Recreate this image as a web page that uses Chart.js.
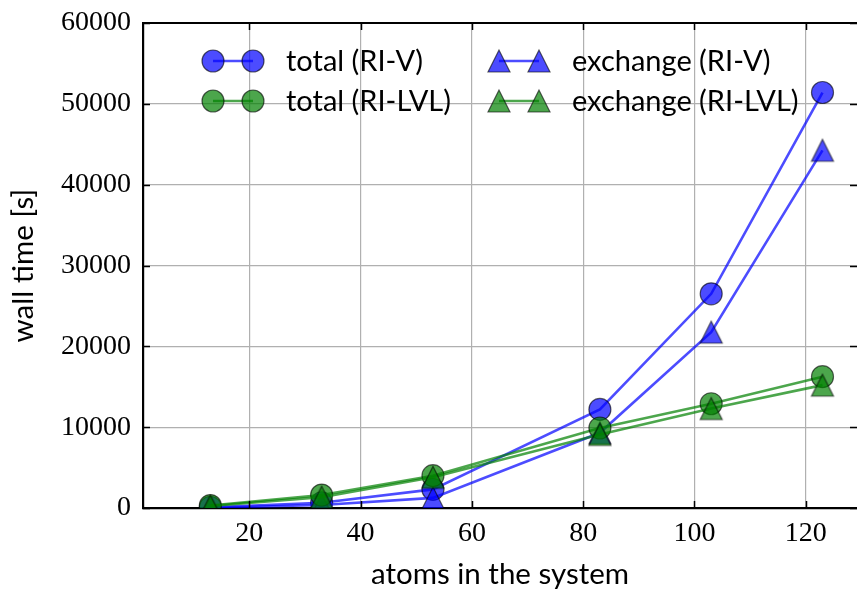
<!DOCTYPE html>
<html>
<head>
<meta charset="utf-8">
<script src="https://cdn.jsdelivr.net/npm/chart.js@4.4.1/dist/chart.umd.min.js"></script>
<style>
  html, body { margin: 0; padding: 0; background: #fff; }
  #wrap { width: 857px; height: 590px; }
</style>
</head>
<body>
<div id="wrap"><canvas id="myChart" width="857" height="590"></canvas></div>
<script>
// timings (seconds) vs. number of atoms
const atoms = [13, 33, 53, 83, 103, 123];
const totalRIV = [80, 650, 2300, 12200, 26500, 51400];
const totalRILVL = [300, 1600, 4000, 9900, 12900, 16250];
const exchangeRIV = [30, 370, 1250, 9300, 21750, 44250];
const exchangeRILVL = [250, 1350, 3800, 9100, 12300, 15200];
const xTicks = [20, 40, 60, 80, 100, 120];
const yTicks = [0, 10000, 20000, 30000, 40000, 50000, 60000];

const BLUE = 'rgba(0,0,255,0.7)';
const GREEN = 'rgba(0,128,0,0.7)';
const EDGE = 'rgba(0,0,0,0.6)';
const SERIF = "'Liberation Serif', serif";
const SANS = "Lato, 'Open Sans', sans-serif";

// matplotlib-like '^' marker, centred on its bounding box
function triangleMarker(fill) {
    const s = 26, h = 11, c = s / 2;
    const cv = document.createElement('canvas');
    cv.width = s; cv.height = s;
    const g = cv.getContext('2d');
    g.beginPath();
    g.moveTo(c, c - h);
    g.lineTo(c - h, c + h);
    g.lineTo(c + h, c + h);
    g.closePath();
    g.fillStyle = fill;
    g.fill();
    g.lineWidth = 1.2;
    g.strokeStyle = EDGE;
    g.stroke();
    return cv;
}

function series(label, values, color, marker, order) {
    return {
        label: label,
        data: atoms.map((a, i) => ({ x: a, y: values[i] })),
        borderColor: color,
        borderWidth: 2.6,
        backgroundColor: color,
        pointStyle: marker === 'circle' ? 'circle' : triangleMarker(color),
        pointRadius: 11,
        pointBackgroundColor: color,
        pointBorderColor: EDGE,
        pointBorderWidth: 1.2,
        tension: 0,
        clip: 0,
        order: order
    };
}

// legend drawn inside the axes: two markers joined by a line, matplotlib style
const innerLegend = {
    id: 'innerLegend',
    afterDatasetsDraw(chart) {
        const ctx = chart.ctx;
        const items = [
            { ds: 0, x: 213, y: 61 },
            { ds: 2, x: 213, y: 101 },
            { ds: 1, x: 499, y: 61 },
            { ds: 3, x: 499, y: 101 }
        ];
        ctx.save();
        items.forEach(it => {
            const d = chart.data.datasets[it.ds];
            const x2 = it.x + 40;
            ctx.beginPath();
            ctx.moveTo(it.x, it.y);
            ctx.lineTo(x2, it.y);
            ctx.strokeStyle = d.borderColor;
            ctx.lineWidth = d.borderWidth;
            ctx.stroke();
            [it.x, x2].forEach(px => {
                if (d.pointStyle === 'circle') {
                    ctx.beginPath();
                    ctx.arc(px, it.y, d.pointRadius, 0, Math.PI * 2);
                    ctx.fillStyle = d.pointBackgroundColor;
                    ctx.fill();
                    ctx.lineWidth = d.pointBorderWidth;
                    ctx.strokeStyle = d.pointBorderColor;
                    ctx.stroke();
                } else {
                    const img = d.pointStyle;
                    ctx.drawImage(img, px - img.width / 2, it.y - img.height / 2);
                }
            });
            ctx.fillStyle = '#000';
            ctx.font = '29px ' + SANS;
            ctx.textBaseline = 'middle';
            ctx.textAlign = 'left';
            ctx.fillText(d.label, x2 + 33, it.y + 1);
        });
        ctx.restore();
    }
};

// top spine and inward ticks on all four sides (right spine sits just past the canvas edge)
const frameTicks = {
    id: 'frameTicks',
    afterDraw(chart) {
        const { ctx, chartArea: a, scales } = chart;
        const len = 7;
        ctx.save();
        ctx.strokeStyle = '#000';
        ctx.lineWidth = 1.5;
        ctx.beginPath();
        xTicks.forEach(v => {
            const px = Math.round(scales.x.getPixelForValue(v)) + 0.5;
            ctx.moveTo(px, a.bottom); ctx.lineTo(px, a.bottom - len);
            ctx.moveTo(px, a.top); ctx.lineTo(px, a.top + len);
        });
        yTicks.forEach(v => {
            const py = Math.round(scales.y.getPixelForValue(v)) + 0.5;
            ctx.moveTo(a.left, py); ctx.lineTo(a.left + len, py);
            ctx.moveTo(a.right, py); ctx.lineTo(a.right - len, py);
        });
        ctx.stroke();
        ctx.lineWidth = 2.2;
        ctx.beginPath();
        ctx.moveTo(a.left, a.top);
        ctx.lineTo(a.right, a.top);
        ctx.stroke();
        ctx.restore();
    }
};

const ctx = document.getElementById('myChart').getContext('2d');
const myChart = new Chart(ctx, {
    type: 'line',
    data: {
        // lower `order` is drawn on top
        datasets: [
            series('total (RI-V)', totalRIV, BLUE, 'circle', 4),
            series('exchange (RI-V)', exchangeRIV, BLUE, 'triangle', 3),
            series('total (RI-LVL)', totalRILVL, GREEN, 'circle', 2),
            series('exchange (RI-LVL)', exchangeRILVL, GREEN, 'triangle', 1)
        ]
    },
    options: {
        responsive: false,
        animation: false,
        layout: { autoPadding: false, padding: { left: 0, right: 0, top: 23, bottom: 0 } },
        plugins: {
            legend: { display: false },
            tooltip: { enabled: false }
        },
        scales: {
            x: {
                type: 'linear',
                min: 0.9,
                max: 129.2,
                afterFit: s => { s.height = 82; s.paddingLeft = 0; s.paddingRight = 0; },
                afterBuildTicks: s => { s.ticks = xTicks.map(v => ({ value: v })); },
                grid: { color: '#b0b0b0', lineWidth: 1.2, drawTicks: false },
                border: { color: '#000', width: 2.2 },
                ticks: {
                    padding: 9,
                    color: '#000',
                    font: { family: SERIF, size: 28 },
                    callback: v => String(v)
                },
                title: {
                    display: true,
                    text: 'atoms in the system',
                    color: '#000',
                    font: { family: SANS, size: 29.5 },
                    padding: { top: 0, bottom: -2 }
                }
            },
            y: {
                min: 0,
                max: 60000,
                afterFit: s => { s.width = 143; s.paddingTop = 0; s.paddingBottom = 0; },
                afterBuildTicks: s => { s.ticks = yTicks.map(v => ({ value: v })); },
                grid: { color: '#b0b0b0', lineWidth: 1.2, drawTicks: false },
                border: { color: '#000', width: 2.2 },
                ticks: {
                    padding: 12,
                    color: '#000',
                    font: { family: SERIF, size: 28 },
                    callback: v => String(v)
                },
                title: {
                    display: true,
                    text: 'wall time [s]',
                    color: '#000',
                    font: { family: SANS, size: 29.5 },
                    padding: { top: 6, bottom: 0 }
                }
            }
        }
    },
    plugins: [innerLegend, frameTicks]
});
</script>
</body>
</html>
